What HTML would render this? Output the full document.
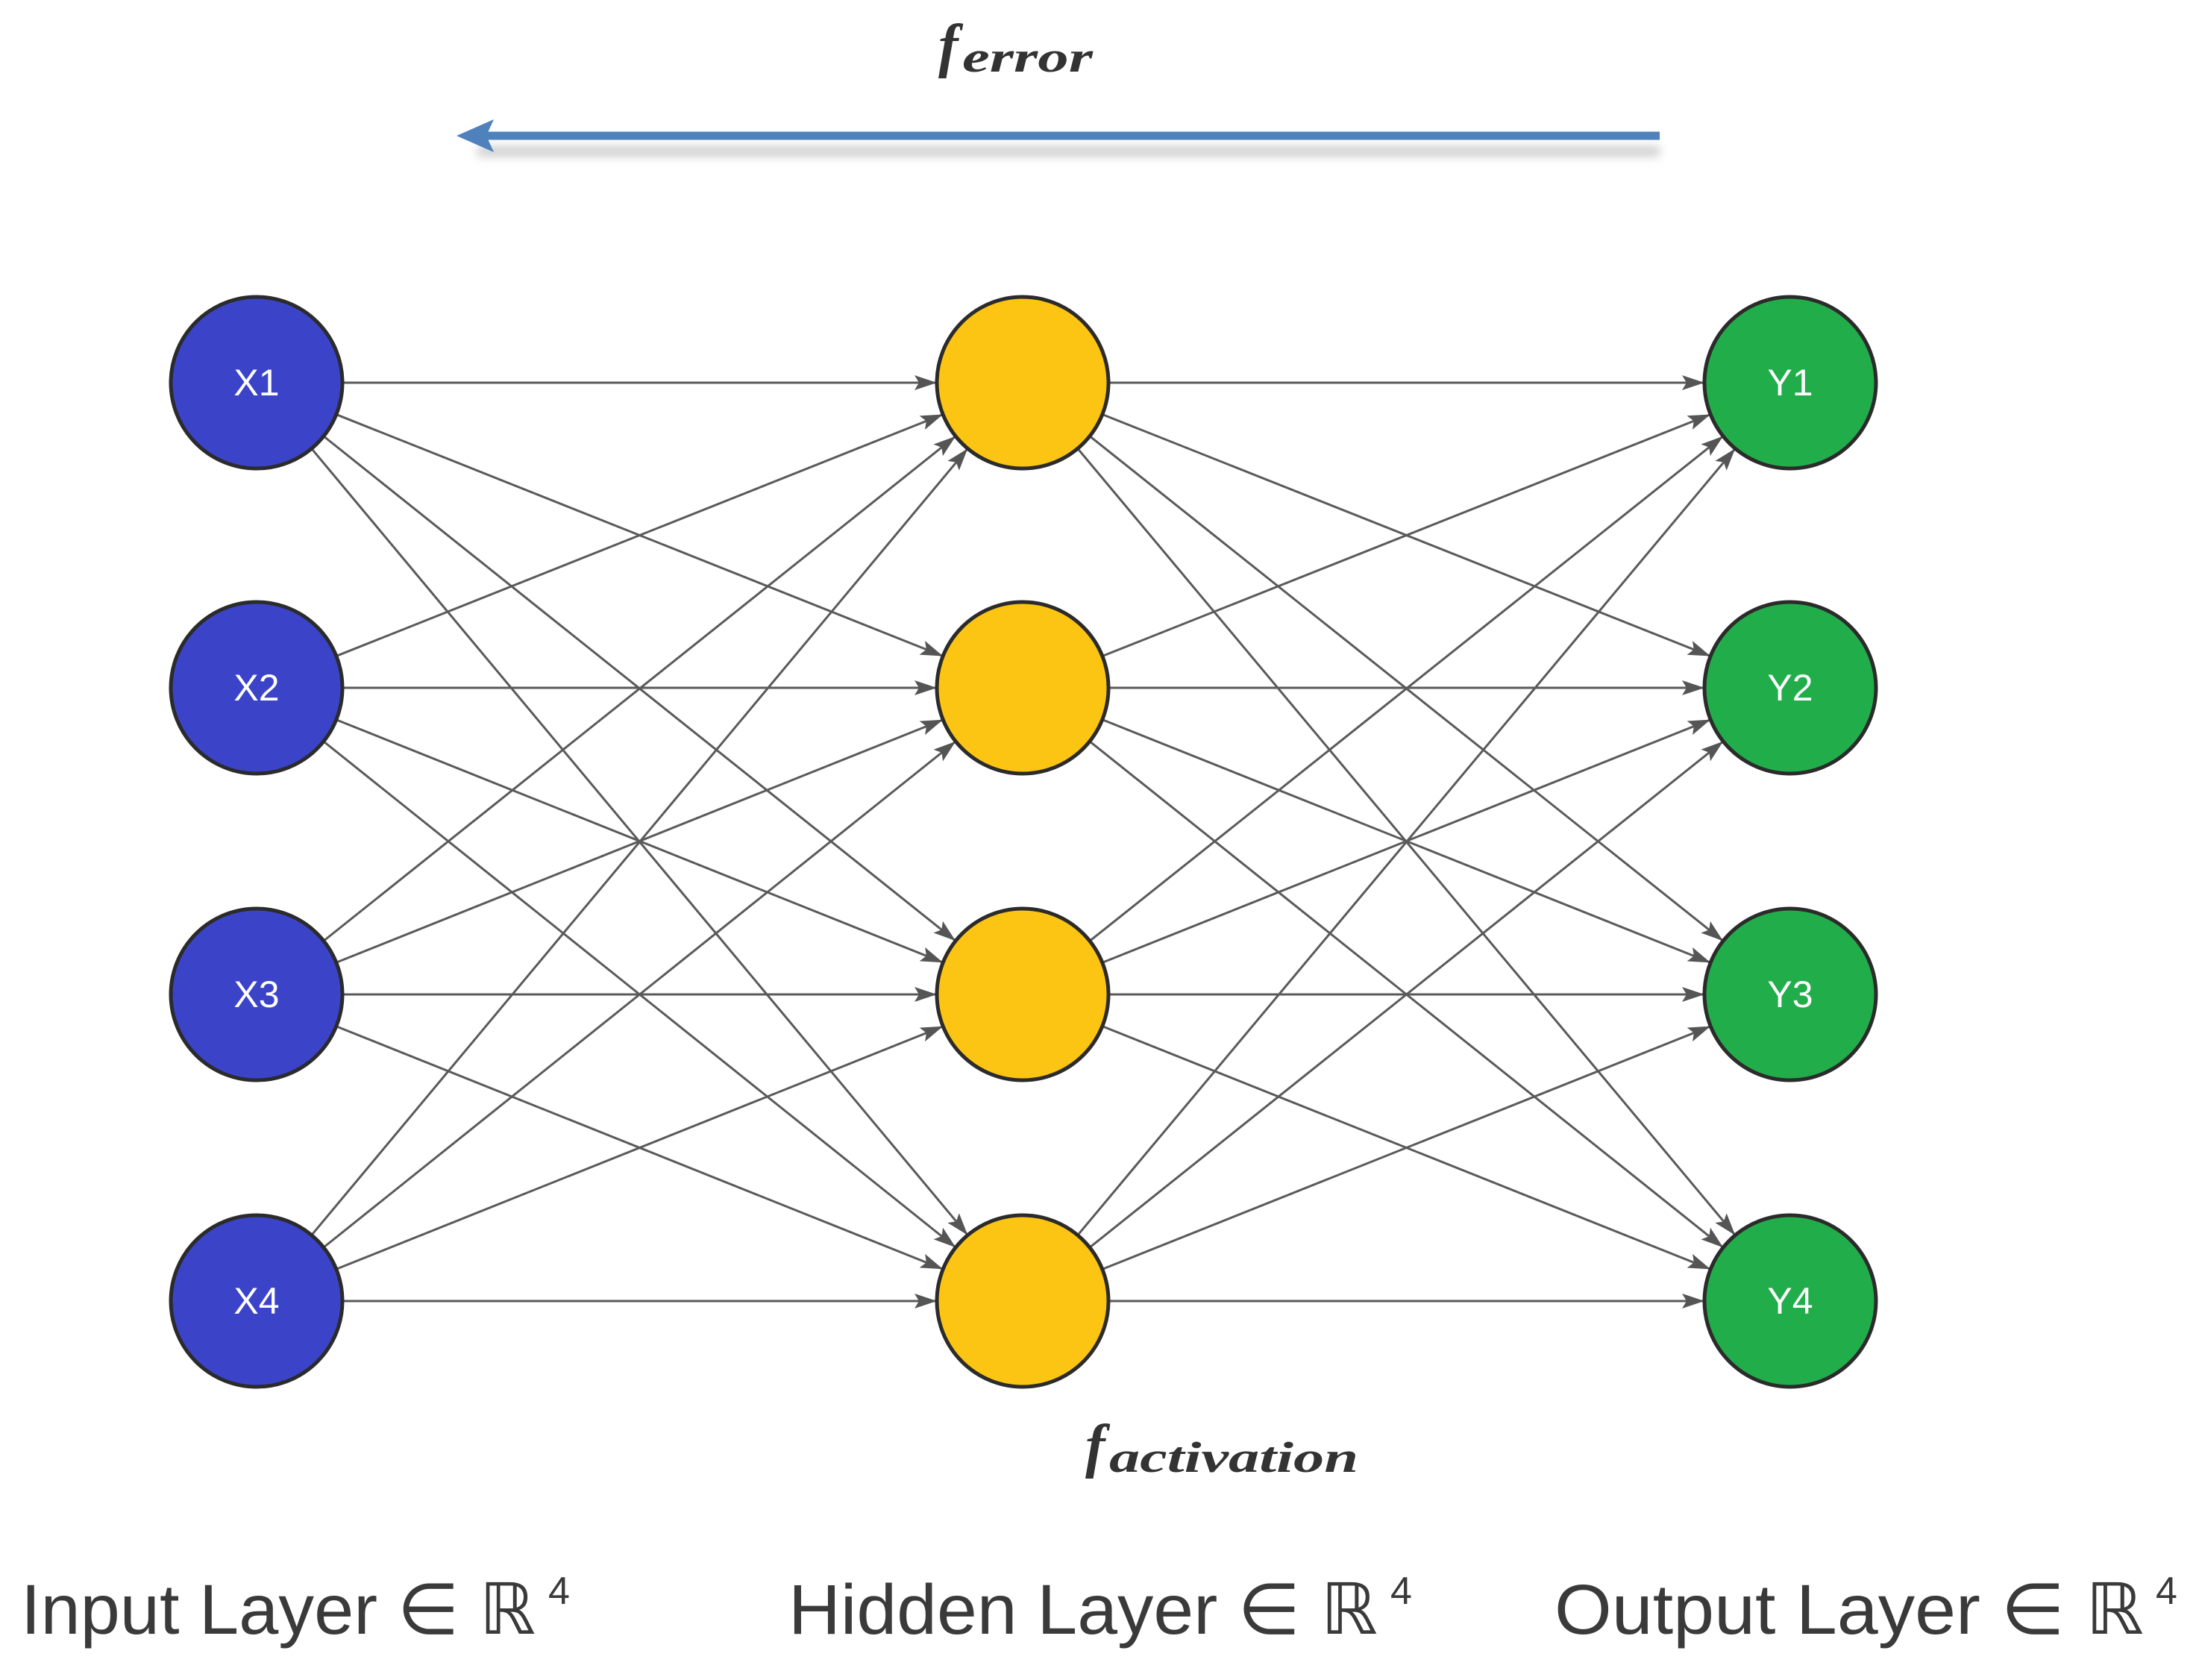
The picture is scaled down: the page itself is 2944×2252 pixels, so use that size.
<!DOCTYPE html>
<html><head><meta charset="utf-8"><style>
html,body{margin:0;padding:0;background:#fff;}
svg{display:block;}
</style></head><body>
<svg id="s" width="2944" height="2252" viewBox="0 0 2944 2252" xmlns="http://www.w3.org/2000/svg">
<defs>
<marker id="ah" markerUnits="userSpaceOnUse" markerWidth="30" markerHeight="24" refX="28" refY="12" orient="auto">
<path d="M0,2 L30,12 L0,22 L6,12 Z" fill="#555"/>
</marker>
<filter id="sh" x="-10%" y="-200%" width="120%" height="500%"><feGaussianBlur stdDeviation="6"/></filter>
</defs>
<g id="edges" stroke="#5a5a5a" stroke-width="3" fill="none"></g>
<g>
<rect x="640" y="196" width="1585" height="14" fill="#bbb" filter="url(#sh)" opacity="0.7"/>
<line x1="2225" y1="182" x2="650" y2="182" stroke="#4f81bd" stroke-width="11"/>
<path d="M612,182 L662,160 L652,182 L662,204 Z" fill="#4f81bd"/>
</g>
<text x="1258" y="88" font-family="Liberation Serif, serif" font-style="italic" font-weight="bold" font-size="80" fill="#333">f</text>
<text x="1290" y="96" textLength="175" lengthAdjust="spacingAndGlyphs" font-family="Liberation Serif, serif" font-style="italic" font-weight="bold" font-size="58" fill="#333">error</text>
<text x="1455" y="1965" font-family="Liberation Serif, serif" font-style="italic" font-weight="bold" font-size="80" fill="#333">f</text>
<text x="1487" y="1973" textLength="334" lengthAdjust="spacingAndGlyphs" font-family="Liberation Serif, serif" font-style="italic" font-weight="bold" font-size="58" fill="#333">activation</text>
<g id="nodes"></g>
<g font-family="Liberation Sans, DejaVu Sans, sans-serif" font-size="95" fill="#3a3a3a">
<text x="28" y="2190" textLength="690" lengthAdjust="spacingAndGlyphs">Input Layer ∈ ℝ</text>
<text x="735" y="2150" font-size="52">4</text>
<text x="1057" y="2190" textLength="790" lengthAdjust="spacingAndGlyphs">Hidden Layer ∈ ℝ</text>
<text x="1864" y="2150" font-size="52">4</text>
<text x="2084" y="2190" textLength="790" lengthAdjust="spacingAndGlyphs">Output Layer ∈ ℝ</text>
<text x="2890" y="2150" font-size="52">4</text>
</g>
</svg>
<script>
var NS="http://www.w3.org/2000/svg";
var xs=[344,1371,2400], ys=[513,922,1333,1744], r=115;
var eg=document.getElementById("edges"), ng=document.getElementById("nodes");
for(var l=0;l<2;l++)for(var i=0;i<4;i++)for(var j=0;j<4;j++){
 var x1=xs[l],y1=ys[i],x2=xs[l+1],y2=ys[j];
 var dx=x2-x1,dy=y2-y1,d=Math.sqrt(dx*dx+dy*dy),ux=dx/d,uy=dy/d;
 var ln=document.createElementNS(NS,"line");
 ln.setAttribute("x1",x1+ux*r);ln.setAttribute("y1",y1+uy*r);
 ln.setAttribute("x2",x2-ux*(r+2));ln.setAttribute("y2",y2-uy*(r+2));
 ln.setAttribute("marker-end","url(#ah)");
 eg.appendChild(ln);
}
var cols=["#3b44c9","#fdc513","#22ad4b"], labs=[["X1","X2","X3","X4"],null,["Y1","Y2","Y3","Y4"]];
for(var l=0;l<3;l++)for(var i=0;i<4;i++){
 var c=document.createElementNS(NS,"circle");
 c.setAttribute("cx",xs[l]);c.setAttribute("cy",ys[i]);c.setAttribute("r",r);
 c.setAttribute("fill",cols[l]);c.setAttribute("stroke","#2b2b2b");c.setAttribute("stroke-width","5");
 ng.appendChild(c);
 if(labs[l]){var t=document.createElementNS(NS,"text");
 t.setAttribute("x",xs[l]);t.setAttribute("y",ys[i]+17);t.setAttribute("text-anchor","middle");
 t.setAttribute("font-family","Liberation Sans, sans-serif");t.setAttribute("font-size","50");t.setAttribute("fill","#fff");
 t.textContent=labs[l][i];ng.appendChild(t);}
}
</script>
</body></html>
